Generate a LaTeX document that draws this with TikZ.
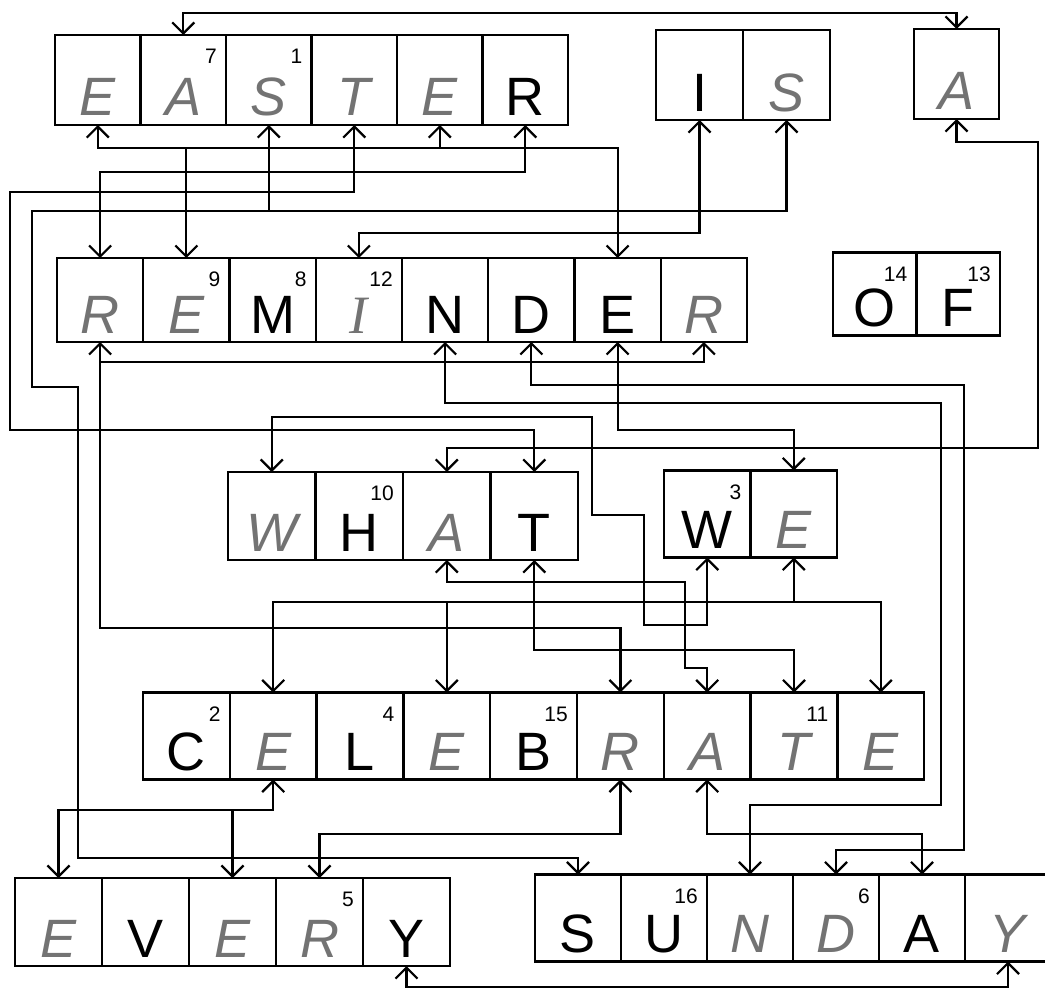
\documentclass[tikz,border=0pt]{standalone}
\usepackage{fontspec}
\setmainfont{Liberation Sans}
\newfontfamily\serifhand{Liberation Serif}
\usetikzlibrary{arrows.meta}
\definecolor{hw}{RGB}{115,115,115}
\newcommand\handfont{\color{hw}\itshape}
\newcommand\wordrow[6]{%
  \foreach \wlet/\wnum/\whand [count=\wi] in {#6} {%
    \node[cell, minimum width=#4pt, minimum height=#5pt] (#1\wi) at ({#2+(\wi-0.5)*#4}, #3) {};
    \node[letter] at ([yshift=9pt]#1\wi.south) {\ifnum\whand=1 \handfont\fi\wlet};
    \node[num] at ([xshift=-9pt,yshift=-14pt]#1\wi.north east) {\wnum};
  }%
}
\begin{document}
\begin{tikzpicture}[x=1pt, y=-1pt,
  cell/.style={draw, line width=2.4pt, inner sep=0pt, outer sep=0pt},
  letter/.style={anchor=base, inner sep=0pt, font=\fontsize{54}{54}\selectfont},
  num/.style={anchor=north east, inner sep=0pt, font=\fontsize{21}{21}\selectfont},
  >={Straight Barb[length=11pt,width=22pt]},
  conn/.style={line width=2.2pt},
  arr/.style={conn, ->},
  barr/.style={conn, <->}]
\clip (0,0) rectangle (1045,990);
\fill[white] (0,0) rectangle (1045,990);
% words
\wordrow{ea}{55}{80}{85.5}{90}{E//1, A/7/1, S/1/1, T//1, E//1, R//0}
\wordrow{is}{656}{75}{87}{90}{I//0, S//1}
\wordrow{aa}{914}{74}{85}{90}{A//1}
\wordrow{re}{57}{300}{86.25}{84}{R//1, E/9/1, M/8/0, {\serifhand I}/12/1, N//0, D//0, E//0, R//1}
\wordrow{of}{833}{294}{83.5}{83}{O/14/0, F/13/0}
\wordrow{wh}{228}{516}{87.5}{88}{W//1, H/10/0, A//1, T//0}
\wordrow{we}{664}{514}{86.5}{87}{W/3/0, E//1}
\wordrow{ce}{143}{736}{86.8}{87}{C/2/0, E//1, L/4/0, E//1, B/15/0, R//1, A//1, T/11/1, E//1}
\wordrow{ev}{15}{922}{87}{88}{E//1, V//0, E//1, R/5/1, Y//0}
\wordrow{su}{535}{918}{86}{87}{S//0, U/16/0, N//1, D/6/1, A//0, Y//1}
% A: EASTER A <-> A
\draw[barr] (ea2.north) -- (ea2.north |- 0,13) -| (aa1.north);
% E line
\draw[barr] (ea1.south) -- (ea1.south |- 0,148) -| (re7.north);
\draw[arr] (ea5.south |- 0,148) -- (ea5.south);
\draw[arr] (re2.north |- 0,148) -- (re2.north);
% R line
\draw[barr] (ea6.south) -- (ea6.south |- 0,172) -| (re1.north);
% T line
\draw[barr] (ea4.south) -- (ea4.south |- 0,192) -- (10,192) -- (10,430) -| (wh4.north);
% S line
\draw[barr] (ea3.south) -- (ea3.south |- 0,211) -| (is2.south);
\draw[arr] (ea3.south |- 0,211) -- (32,211) -- (32,387) -- (78,387) -- (78,858) -| (su1.north);
% I line
\draw[barr] (is1.south) -- (is1.south |- 0,233) -| (re4.north);
% A line
\draw[barr] (aa1.south) -- (aa1.south |- 0,142) -- (1038,142) -- (1038,448) -| (wh3.north);
% R line 2
\draw[barr] (re1.south) -- (re1.south |- 0,362) -| (re8.south);
\draw[arr] (re1.south |- 0,362) -- (re1.south |- 0,628) -| (ce6.north);
% N line
\draw[barr] (re5.south) -- (re5.south |- 0,403) -- (941,403) -- (941,805) -| (su3.north);
% D line
\draw[barr] (re6.south) -- (re6.south |- 0,385) -- (964,385) -- (964,850) -| (su4.north);
% E line 2
\draw[barr] (re7.south) -- (re7.south |- 0,430) -| (we2.north);
% W line
\draw[barr] (wh1.north) -- (wh1.north |- 0,417) -- (592,417) -- (592,515) -- (644,515) -- (644,625) -| (we1.south);
% A line 2
\draw[barr] (wh3.south) -- (wh3.south |- 0,582) -- (685,582) -- (685,668) -| (ce7.north);
% T line 2
\draw[barr] (wh4.south) -- (wh4.south |- 0,650) -| (ce8.north);
% E line 3
\draw[barr] (we2.south) -- (we2.south |- 0,602) -| (ce9.north);
\draw[arr] (we2.south |- 0,602) -| (ce2.north);
\draw[arr] (ce4.north |- 0,602) -- (ce4.north);
% E line 4
\draw[barr] (ce2.south) -- (ce2.south |- 0,810) -| (ev1.north);
\draw[arr] (ev3.north |- 0,810) -- (ev3.north);
% R line 3
\draw[barr] (ce6.south) -- (ce6.south |- 0,834) -| (ev4.north);
% A line 3
\draw[barr] (ce7.south) -- (ce7.south |- 0,834) -| (su5.north);
% Y line
\draw[barr] (ev5.south) -- (ev5.south |- 0,987) -| (su6.south);
\end{tikzpicture}
\end{document}
